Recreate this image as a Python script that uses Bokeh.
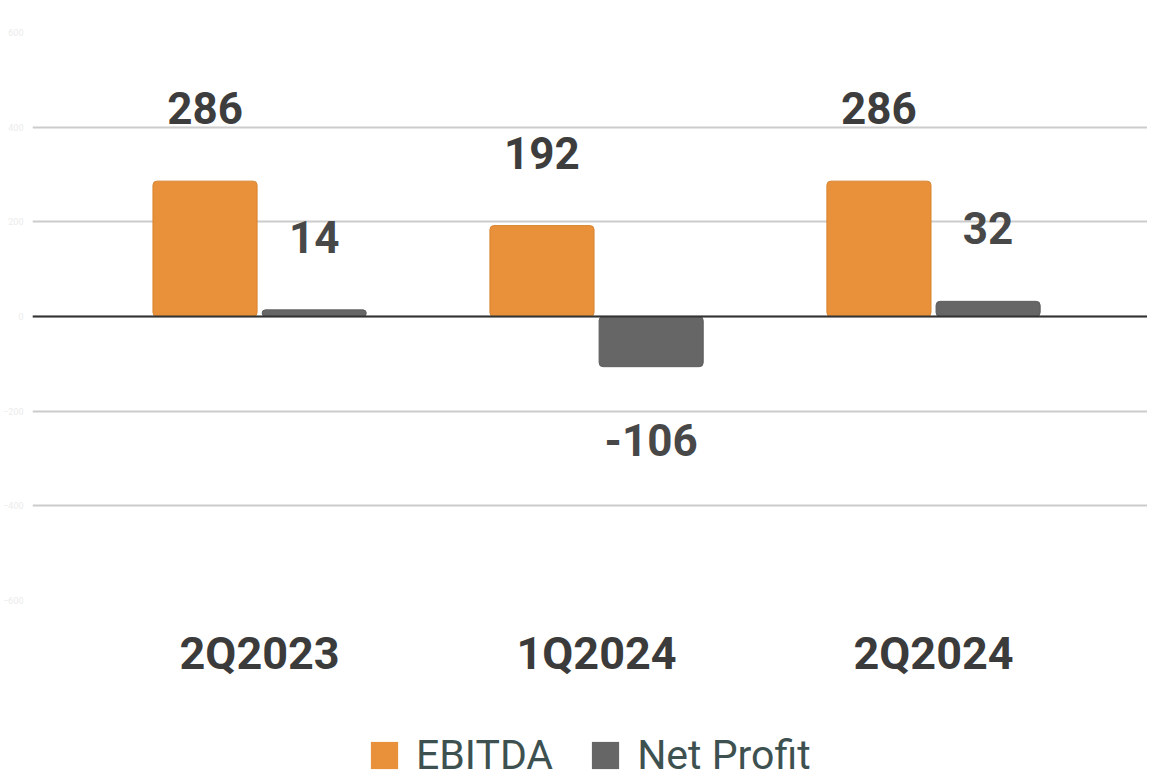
from bokeh.plotting import figure
from bokeh.layouts import column
from bokeh.models import Range1d, FixedTicker, Span, Legend, LegendItem, ColumnDataSource
from bokeh.transform import dodge
from bokeh.core.properties import value
from bokeh.embed import file_html
from bokeh.resources import INLINE

categories = ["2Q2023", "1Q2024", "2Q2024"]
ebitda = [286, 192, 286]
net_profit = [14, -106, 32]
y_ticks = [-600, -400, -200, 0, 200, 400, 600]
series_names = ["EBITDA", "Net Profit"]

ORANGE = "#E8913A"
GREY = "#666666"

idx = list(range(len(categories)))
LBL_OFF = 73
src = ColumnDataSource(dict(
    idx=idx,
    ebitda=ebitda,
    net=net_profit,
    ebitda_lbl=[str(v) for v in ebitda],
    net_lbl=[str(v) for v in net_profit],
    ebitda_off=[-LBL_OFF if v >= 0 else LBL_OFF for v in ebitda],
    net_off=[-LBL_OFF if v >= 0 else LBL_OFF for v in net_profit],
))

p = figure(width=1147, height=700,
           x_range=Range1d(-0.674, 2.635), y_range=Range1d(-600, 600),
           output_backend="svg", toolbar_location=None,
           min_border_top=32, min_border_left=22, min_border_right=0,
           min_border_bottom=100)
p.outline_line_color = None
p.background_fill_color = "white"
p.border_fill_color = "white"

OFF = 0.162
W = 0.309
p.vbar(x=dodge('idx', -OFF), top='ebitda', bottom=0, width=W, source=src,
       fill_color=ORANGE, line_color="#D8842F", line_width=1, border_radius=4)
p.vbar(x=dodge('idx', OFF), top='net', bottom=0, width=W, source=src,
       fill_color=GREY, line_color="#5E5E5E", line_width=1, border_radius=4)

p.add_layout(Span(location=0, dimension="width", line_color="#333333", line_width=2))

p.text(x=dodge('idx', -OFF), y='ebitda', text='ebitda_lbl', y_offset='ebitda_off', source=src,
       text_align="center", text_baseline="middle", text_font=value("Roboto"),
       text_font_size="44px", text_font_style="bold", text_color="#3D3D3D")
p.text(x=dodge('idx', OFF), y='net', text='net_lbl', y_offset='net_off', source=src,
       text_align="center", text_baseline="middle", text_font=value("Roboto"),
       text_font_size="44px", text_font_style="bold", text_color="#484848")

# x axis
p.xaxis.ticker = FixedTicker(ticks=idx)
p.xaxis.major_label_overrides = {i: c for i, c in zip(idx, categories)}
p.xaxis.major_label_text_font = "Roboto"
p.xaxis.major_label_text_font_size = "45px"
p.xaxis.major_label_text_font_style = "bold"
p.xaxis.major_label_text_color = "#3B3B3B"
p.xaxis.major_label_standoff = 20
p.xaxis.axis_line_color = None
p.xaxis.major_tick_line_color = None
p.xaxis.minor_tick_line_color = None
p.xgrid.grid_line_color = None

# y axis (very faint labels)
p.yaxis.ticker = FixedTicker(ticks=y_ticks)
p.yaxis.major_label_text_font = "Roboto"
p.yaxis.major_label_text_font_size = "9px"
p.yaxis.major_label_text_color = "#EBEBEB"
p.yaxis.major_label_standoff = 3
p.yaxis.axis_line_color = None
p.yaxis.major_tick_line_color = None
p.yaxis.minor_tick_line_color = None
p.ygrid.grid_line_color = "#CCCCCC"
p.ygrid.grid_line_width = 2

# legend strip (bars drawn far outside its visible range; only the legend shows)
lf = figure(width=1147, height=79, output_backend="svg", toolbar_location=None,
            x_axis_type=None, y_axis_type=None,
            x_range=Range1d(-0.674, 2.635), y_range=Range1d(5000, 6000),
            min_border_top=0, min_border_left=0, min_border_right=0, min_border_bottom=0)
lf.outline_line_color = None
lf.grid.grid_line_color = None
l1 = lf.vbar(x='idx', top='ebitda', bottom=0, width=W, source=src,
             fill_color=ORANGE, line_color=None)
l2 = lf.vbar(x='idx', top='net', bottom=0, width=W, source=src,
             fill_color=GREY, line_color=None)
legend = Legend(items=[LegendItem(label=series_names[0], renderers=[l1]),
                       LegendItem(label=series_names[1], renderers=[l2])],
                orientation="horizontal", location=(335, 0),
                label_text_font="Roboto", label_text_font_size="41px",
                label_text_color="#3E5151", glyph_width=34, glyph_height=34,
                spacing=35, label_standoff=15, border_line_color=None,
                background_fill_alpha=0, padding=0, margin=0)
lf.add_layout(legend, "center")

layout = column(p, lf, spacing=0)
open("out.html", "w").write(file_html(layout, INLINE))
